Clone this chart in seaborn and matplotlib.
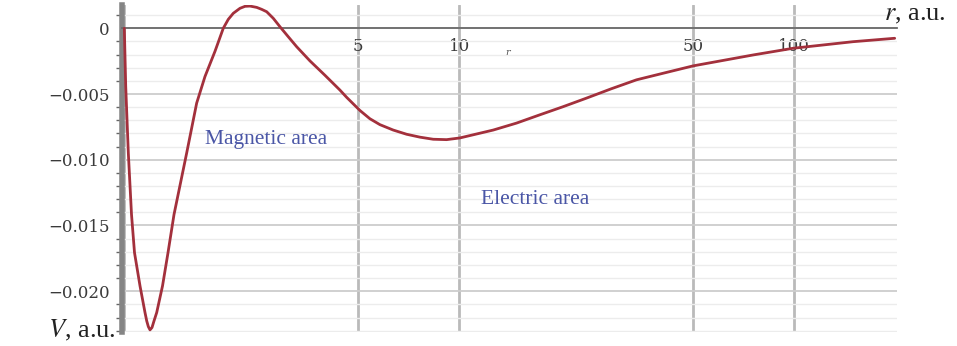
import numpy as np
import matplotlib
matplotlib.use("Agg")
import matplotlib.pyplot as plt
import seaborn as sns
from matplotlib.ticker import FixedLocator, NullLocator, MultipleLocator

# values (r in a.u., log axis; V in a.u.)
r_vals = [1.0, 1.0097, 1.0279, 1.0507, 1.0726, 1.114, 1.1528, 1.1666, 1.1795,
          1.1932, 1.2097, 1.2265, 1.2495, 1.3003, 1.3504, 1.4072, 1.5356,
          1.6446, 1.7413, 1.803, 1.8655, 1.921, 1.9747, 2.044, 2.1154, 2.215,
          2.293, 2.3729, 2.485, 2.572, 2.6613, 2.785, 2.9157, 3.087, 3.2707,
          3.584, 3.972, 4.4048, 4.612, 5.053, 5.413, 5.799, 6.353, 6.966,
          7.633, 8.364, 9.172, 10.05, 12.64, 14.84, 17.42, 20.4, 24.01,
          28.4, 33.85, 41.1, 49.95, 75.44, 99.31, 150.0, 199.8]
v_vals = [0.0, -0.00443, -0.00948, -0.01417, -0.01707, -0.0196, -0.02162, -0.02226, -0.02269,
          -0.02294, -0.02276, -0.02226, -0.02162, -0.0196, -0.01707, -0.01417, -0.00948,
          -0.00569, -0.00367, -0.0027, -0.00175, -0.00085, 0.0, 0.00068, 0.00114, 0.00152,
          0.00167, 0.00169, 0.00159, 0.00144, 0.00126, 0.00076, 0.00012, -0.00064, -0.0014,
          -0.00248, -0.00357, -0.0047, -0.00525, -0.00625, -0.00688, -0.00733, -0.00774, -0.00806,
          -0.00828, -0.00844, -0.00847, -0.00834, -0.00774, -0.00721, -0.00658, -0.00597, -0.00531,
          -0.00461, -0.00392, -0.00339, -0.00286, -0.00203, -0.00152, -0.00102, -0.00076]

x_ticks = [1, 5, 10, 50, 100]
x_tick_labels = ["", "5", "10", "50", "100"]
y_ticks = [0, -0.005, -0.010, -0.015, -0.020]
y_tick_labels = ["0", "\u22120.005", "\u22120.010", "\u22120.015", "\u22120.020"]

sns.set_theme(style="white")
plt.rcParams["mathtext.fontset"] = "stix"

fig = plt.figure(figsize=(9.57, 3.46), dpi=100)
ax = fig.add_axes([0.1275, 0.0405, 0.8095, 0.945])

sns.lineplot(x=r_vals, y=v_vals, ax=ax, color="#a3303c", lw=2.0,
             estimator=None, sort=False, zorder=5)

ax.set_xscale("log")
ax.set_xlim(0.9843, 202.6)
ax.set_ylim(-0.0231, 0.00177)

ax.xaxis.set_major_locator(FixedLocator(x_ticks))
ax.xaxis.set_minor_locator(NullLocator())
ax.set_xticklabels(x_tick_labels)
ax.yaxis.set_major_locator(FixedLocator(y_ticks))
ax.yaxis.set_minor_locator(MultipleLocator(0.001))
ax.set_yticklabels(y_tick_labels)

# grid like the maple plot
ax.grid(which="major", axis="y", color="#cdcdcd", lw=1.3)
ax.grid(which="minor", axis="y", color="#ececec", lw=1.0)
ax.grid(which="major", axis="x", color="#bababa", lw=2.0)
ax.set_axisbelow(True)

# axes: x axis at V = 0, thick grey y axis on the left
for side in ["top", "right"]:
    ax.spines[side].set_visible(False)
ax.spines["bottom"].set_position(("data", 0))
ax.spines["bottom"].set_color("#6a6a6a")
ax.spines["bottom"].set_linewidth(1.3)
ax.spines["bottom"].set_zorder(4)
ax.spines["left"].set_color("#858585")
ax.spines["left"].set_linewidth(4)

ax.tick_params(axis="x", which="major", direction="out", length=2, width=1,
               color="#6a6a6a", pad=5, labelsize=12, labelcolor="#3a3a3a")
ax.tick_params(axis="y", which="major", direction="out", length=5, width=1.3,
               color="#555555", pad=4, labelsize=12, labelcolor="#3a3a3a")
ax.tick_params(axis="y", which="minor", direction="out", length=4, width=1.0,
               color="#666666", left=True)
for lab in ax.get_xticklabels() + ax.get_yticklabels():
    lab.set_family("DejaVu Serif")

# text
ax.text(14.0, -0.00187, "r", fontsize=7, style="italic", color="#555555",
        family="DejaVu Serif", ha="center", va="center")
ax.text(1.741, -0.00847, "Magnetic area", fontsize=15.5, color="#4a56a6",
        family="Liberation Serif", ha="left", va="center")
ax.text(11.61, -0.01302, "Electric area", fontsize=15.5, color="#4a56a6",
        family="Liberation Serif", ha="left", va="center")
fig.text(884 / 957, 1 - 15 / 346, r"$r$, a.u.", fontsize=19, color="#222222",
         family="Liberation Serif", ha="left", va="center")
fig.text(116 / 957, 1 - 330 / 346, r"$V$, a.u.", fontsize=19, color="#222222",
         family="Liberation Serif", ha="right", va="center")

fig.savefig("out.png", dpi=100)
